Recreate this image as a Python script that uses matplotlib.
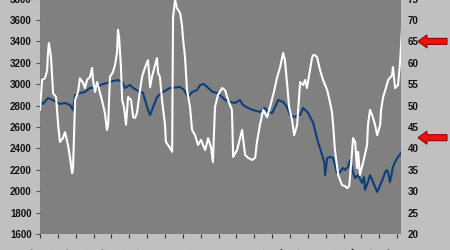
import matplotlib
matplotlib.use("Agg")
import matplotlib.pyplot as plt
from matplotlib.patches import FancyArrow

# ---- data ----
blue_month = [0.0, 1.0, 2.7, 5.0, 6.7, 8.4, 10.1, 11.1, 11.8, 13.4, 15.1, 16.8, 19.2, 20.2,
              22.5, 24.5, 26.2, 27.6, 28.6, 30.2, 31.3, 33.6, 34.6, 35.3, 36.3, 37.0, 39.3,
              41.3, 43.7, 47.1, 48.4, 49.7, 51.1, 52.8, 53.8, 55.1, 56.5, 58.1, 59.5, 61.2,
              62.2, 63.9, 65.5, 67.2, 68.2, 69.9, 71.6, 73.9, 75.6, 76.6, 78.0, 79.0, 80.0,
              81.7, 83.0, 84.0, 85.7, 86.7, 87.4, 88.4, 89.1, 90.1, 91.8, 93.4, 94.8, 95.5,
              95.8, 96.5, 97.5, 98.5, 99.8, 100.8, 101.8, 102.5, 103.5, 104.2, 105.2, 105.9,
              106.9, 108.2, 108.9, 109.2, 110.2, 110.9, 111.9, 113.3, 114.3, 115.3, 116.0,
              116.6, 117.0, 117.6, 118.6, 119.3, 120.3, 121.3]
blue_value = [2852, 2815, 2871, 2843, 2815, 2824, 2806, 2759, 2899, 2918, 2927, 2965, 2965, 2993,
              3011, 3030, 3039, 3020, 2965, 2993, 2965, 2927, 2918, 2852, 2759, 2712, 2880,
              2927, 2965, 2974, 2946, 2880, 2927, 2946, 2993, 3002, 2965, 2927, 2918, 2880,
              2852, 2834, 2824, 2852, 2806, 2778, 2759, 2740, 2778, 2740, 2731, 2787, 2852,
              2834, 2787, 2712, 2693, 2712, 2712, 2778, 2759, 2731, 2637, 2460, 2338, 2273,
              2151, 2310, 2320, 2310, 2170, 2180, 2217, 2198, 2226, 2292, 2170, 2123,
              2151, 2077, 2133, 2011, 2086, 2151, 2086, 1993, 2058, 2123, 2179,
              2198, 2170, 2086, 2226, 2273, 2320, 2357]

white_month = [0.0, 0.7, 1.7, 2.4, 2.7, 3.0, 3.7, 4.4, 5.4, 6.1, 6.7, 7.7, 8.4, 9.4, 10.1, 10.8,
               11.1, 11.8, 12.8, 13.4, 14.5, 15.1, 15.8, 16.8, 17.5, 17.8, 18.5, 19.2, 20.2,
               20.8, 21.8, 22.5, 22.9, 23.5, 24.5, 25.2, 25.9, 26.2, 26.6, 27.2, 27.6, 28.2,
               28.9, 29.6, 30.6, 31.3, 31.9, 32.6, 33.6, 34.3, 35.0, 36.0, 36.3, 37.0, 37.6,
               38.7, 39.3, 39.7, 40.3, 41.0, 42.0, 42.3, 43.0, 43.7, 44.4, 44.7, 45.4, 46.0,
               47.1, 47.7, 48.1, 48.7, 49.4, 50.4, 51.1, 52.1, 53.1, 54.1, 55.5, 56.5, 57.5,
               58.1, 58.8, 59.8, 61.2, 62.2, 63.2, 64.5, 64.9, 66.2, 67.2, 67.9, 68.9, 69.9,
               71.3, 72.3, 72.9, 73.6, 73.9, 75.0, 76.3, 77.3, 78.6, 79.7, 80.7, 81.7, 82.3,
               83.0, 83.7, 84.7, 85.4, 86.4, 87.4, 88.4, 89.1, 89.7, 90.7, 91.4, 91.8, 92.4,
               93.1, 94.1, 95.1, 96.5, 97.5, 98.1, 98.5, 99.1, 100.2, 101.5, 102.5, 103.2,
               103.9, 104.5, 105.2, 105.9, 106.5, 106.9, 107.5, 108.6, 109.9, 110.2, 110.9,
               111.6, 112.6, 113.3, 114.3, 114.6, 115.3, 116.0, 117.0, 118.3, 118.6, 119.3,
               120.3, 121.0, 121.7]
white_value = [49.0, 56.0, 56.4, 58.3, 62.5, 64.6, 61.3, 52.9, 52.0, 45.5, 41.5, 42.4, 43.8, 40.8,
               37.8, 34.2, 35.4, 51.3, 53.2, 56.4, 55.3, 54.1, 56.0, 56.7, 58.8, 56.0, 53.2,
               55.5, 52.9, 51.3, 48.3, 44.3, 45.5, 56.7, 57.8, 59.5, 62.5, 67.7, 65.8, 59.0,
               51.3, 49.7, 45.5, 52.0, 51.3, 47.3, 47.1, 48.3, 53.6, 56.7, 58.3, 60.2, 60.6,
               54.3, 56.7, 59.5, 61.1, 57.6, 56.7, 51.3, 45.5, 41.5, 40.8, 40.1, 39.2, 70.7,
               74.7, 72.8, 71.6, 68.8, 65.3, 61.6, 53.6, 49.7, 44.3, 43.1, 40.8, 42.0, 39.6,
               42.4, 40.1, 36.8, 49.7, 52.5, 54.1, 53.6, 51.3, 49.0, 38.0, 39.6, 42.4, 44.3,
               38.5, 37.8, 37.3, 37.8, 41.5, 44.3, 45.5, 49.0, 47.3, 49.7, 53.2, 56.7, 59.0,
               62.3, 60.6, 55.3, 49.7, 46.6, 43.1, 45.5, 55.5, 54.8, 56.0, 54.1, 58.3, 61.1,
               61.8, 61.8, 61.3, 58.3, 56.0, 53.6, 50.6, 48.5, 45.5, 39.6, 33.8, 31.4, 31.2,
               30.7, 31.2, 36.1, 42.4, 41.5, 35.4, 39.2, 33.8, 36.8, 40.8, 45.5, 49.0, 47.8,
               45.5, 43.1, 45.5, 49.0, 52.0, 53.6, 56.0, 57.1, 59.0, 54.1, 54.8, 60.2, 68.8]

left_ticks = [1600, 1800, 2000, 2200, 2400, 2600, 2800, 3000, 3200, 3400, 3600, 3800]
right_ticks = [20, 25, 30, 35, 40, 45, 50, 55, 60, 65, 70, 75]
x_ticks = list(range(0, 121, 6))
x_labels = [f"{'Jan' if i % 2 == 0 else 'Jul'}-{(88 + i // 2) % 100:02d}" for i in range(len(x_ticks))]
arrow_levels = [65, 42.5]

# ---- figure ----
fig = plt.figure(figsize=(4.5, 2.5), dpi=100, facecolor="#c0c0c0")
ax = fig.add_axes([40 / 450, 16 / 250, 361 / 450, 235.4 / 250])
ax.set_facecolor("#808080")
for s in ax.spines.values():
    s.set_visible(False)

ax.plot(blue_month, blue_value, color="#0b3f7e", lw=1.5, solid_joinstyle="round")
ax.set_xlim(0, 121.3)
ax.set_ylim(1600, 3800)
ax.set_yticks(left_ticks)
ax.set_yticklabels([str(v) for v in left_ticks], fontsize=7, family="Liberation Sans",
                   fontweight="bold", color="#111111")
ax.tick_params(axis="y", length=3, color="#555555", pad=3)
ax.set_xticks(x_ticks)
ax.set_xticklabels(x_labels, rotation=45, ha="right", fontsize=7, family="Liberation Sans",
                   fontweight="bold", color="#111111")
ax.tick_params(axis="x", length=3, color="#333333", pad=7)

ax2 = ax.twinx()
for s in ax2.spines.values():
    s.set_visible(False)
ax2.plot(white_month, white_value, color="white", lw=1.5, solid_joinstyle="round")
ax2.set_ylim(20, 75)
ax2.set_yticks(right_ticks)
ax2.set_yticklabels([str(v) for v in right_ticks], fontsize=7, family="Liberation Sans",
                    fontweight="bold", color="#111111")
ax2.tick_params(axis="y", length=0, pad=5)

# red arrows pointing at right-axis levels
for lvl in arrow_levels:
    disp = ax2.transData.transform((0, lvl))
    fy = fig.transFigure.inverted().transform(disp)[1]
    arr = FancyArrow(447 / 450, fy, -29 / 450, 0, width=6 / 250, head_width=13 / 250,
                     head_length=9 / 450, length_includes_head=True,
                     transform=fig.transFigure, facecolor="#ee1111", edgecolor="#990000",
                     lw=0.8, clip_on=False)
    fig.add_artist(arr)

fig.savefig("out.png", dpi=100, facecolor=fig.get_facecolor())
